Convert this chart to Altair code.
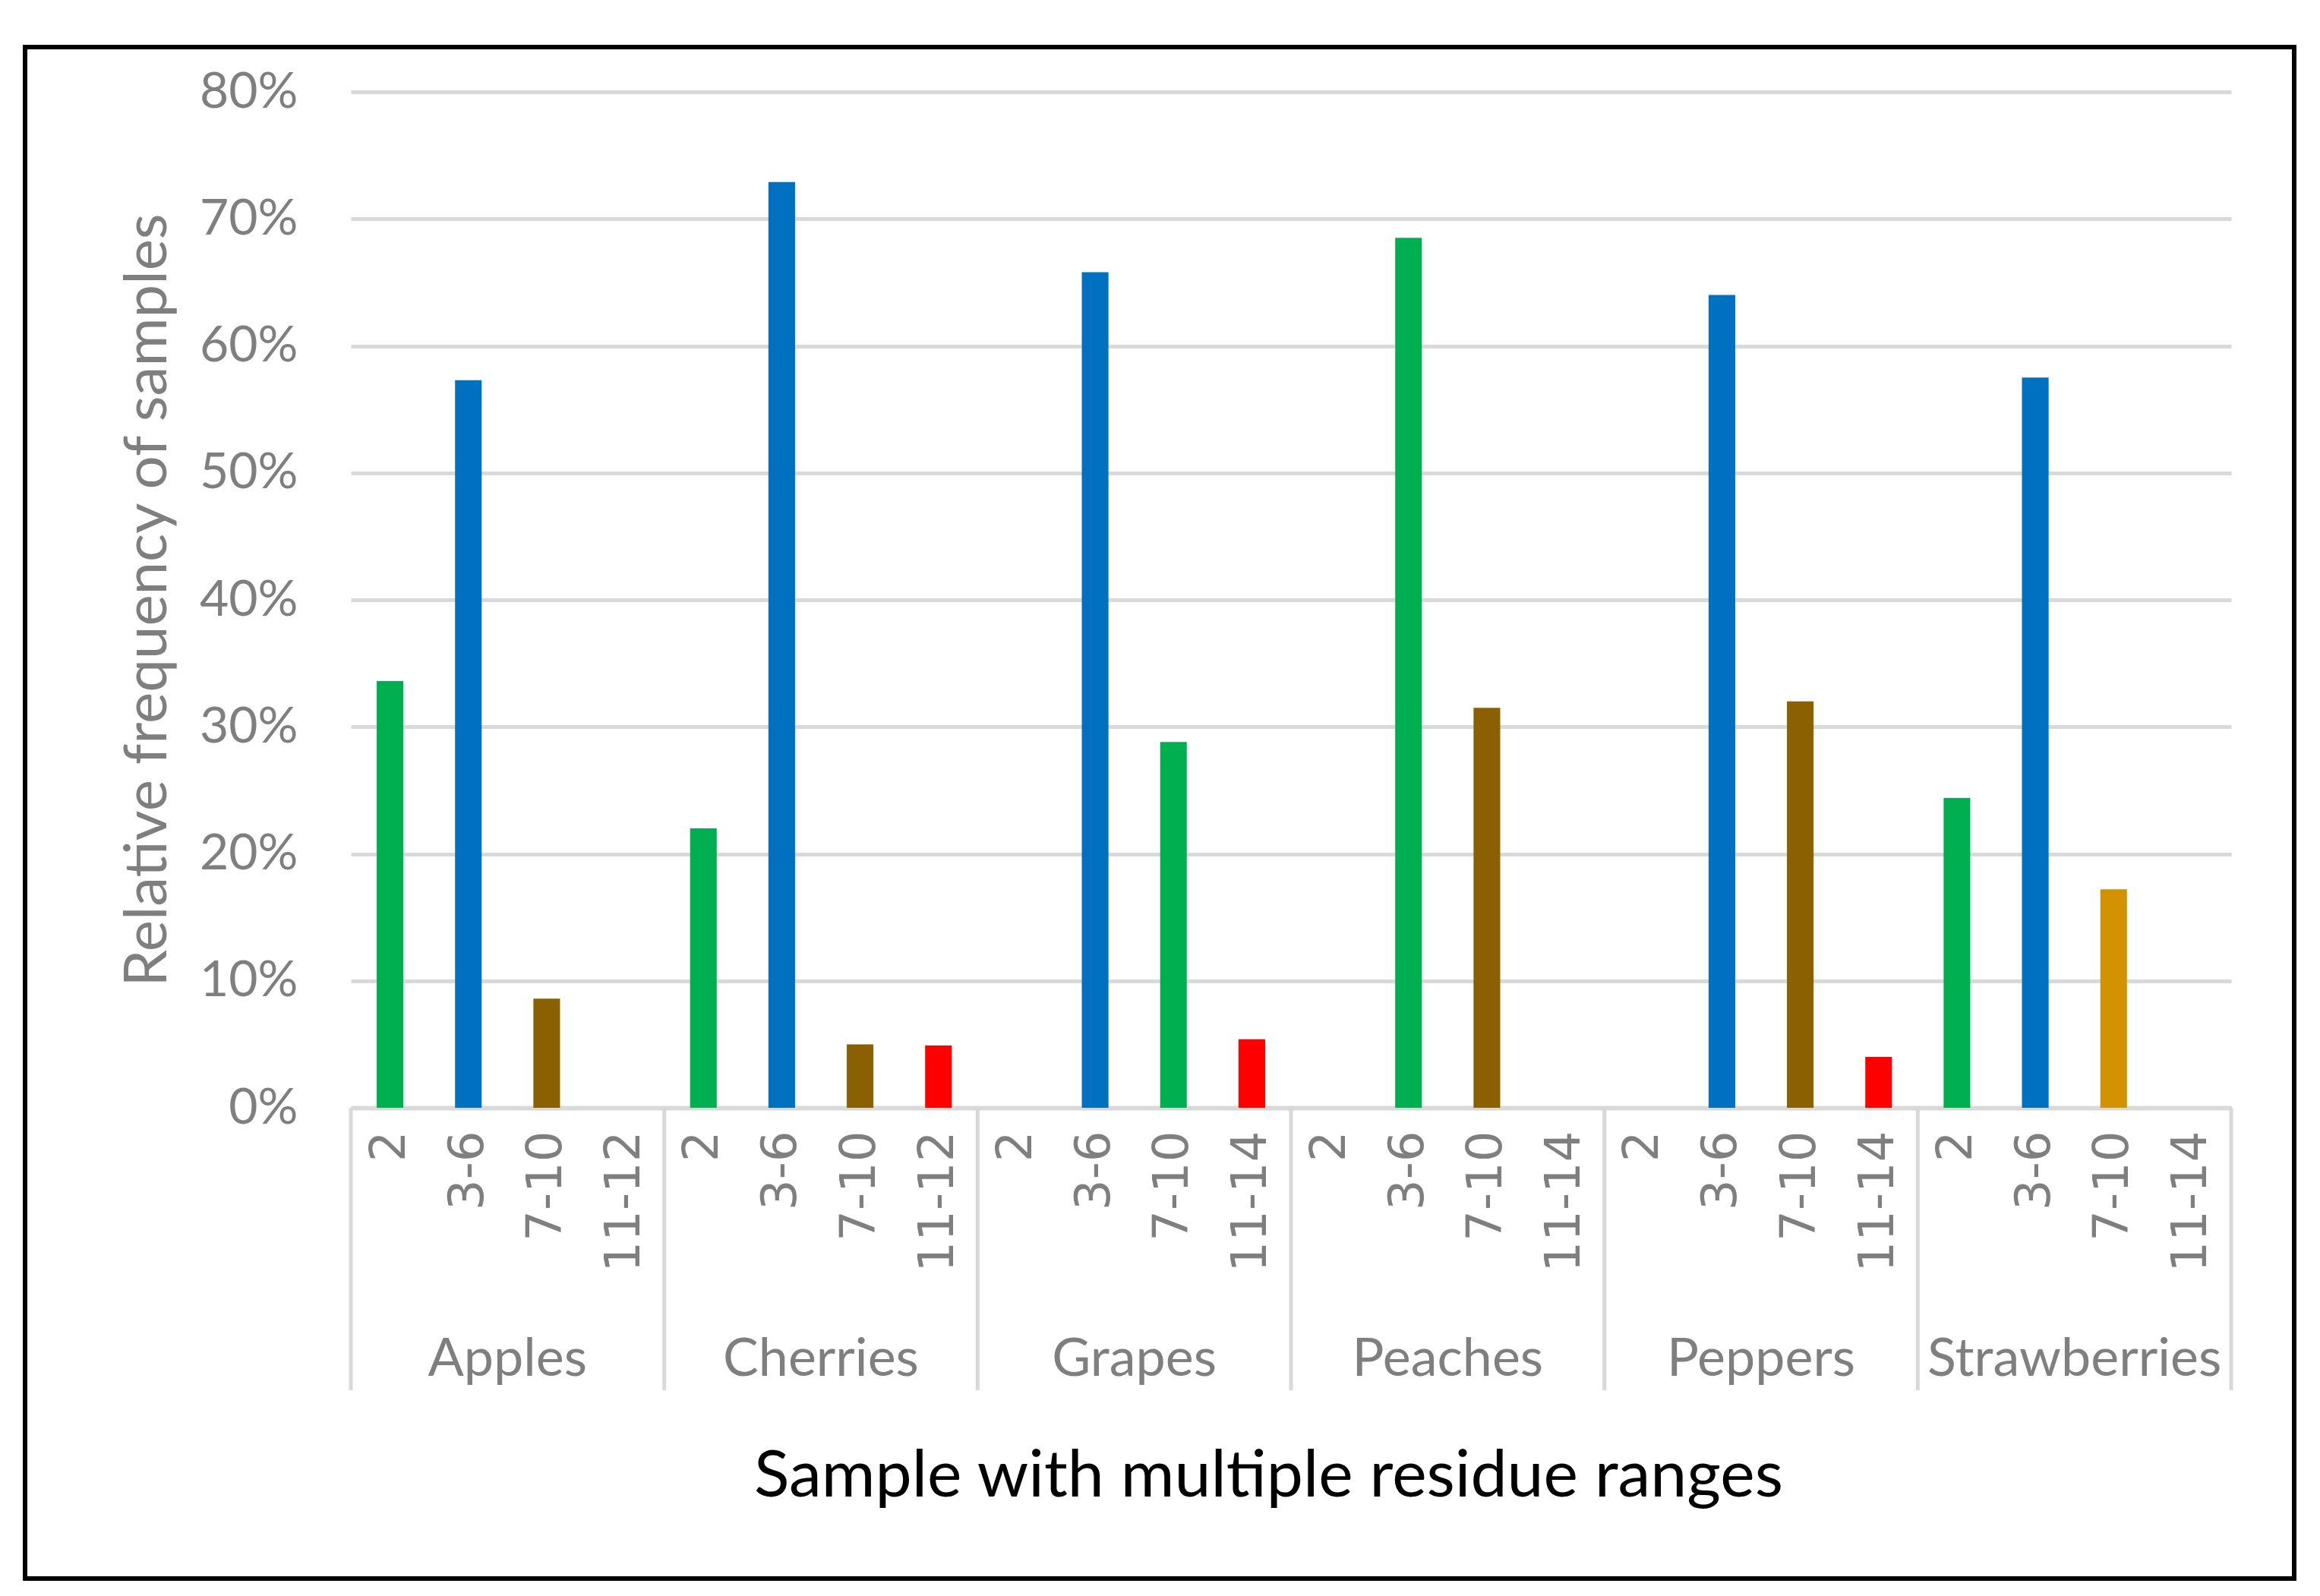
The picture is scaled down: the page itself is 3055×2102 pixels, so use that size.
import altair as alt
import pandas as pd

groups = ["Apples", "Cherries", "Grapes", "Peaches", "Peppers", "Strawberries"]
ranges = [
    ["2", "3-6", "7-10", "11-12"],
    ["2", "3-6", "7-10", "11-12"],
    ["2", "3-6", "7-10", "11-14"],
    ["2", "3-6", "7-10", "11-14"],
    ["2", "3-6", "7-10", "11-14"],
    ["2", "3-6", "7-10", "11-14"],
]
values_pct = [
    [33.6, 57.3, 8.6, 0.0],
    [22.0, 72.9, 5.0, 4.9],
    [0.0, 65.8, 28.8, 5.4],
    [0.0, 68.5, 31.5, 0.0],
    [0.0, 64.0, 32.0, 4.0],
    [24.4, 57.5, 17.2, 0.0],
]
GREEN, BLUE, BROWN, RED, GOLD = "#00B050", "#0070C0", "#8B6000", "#FF0000", "#D39200"
bar_colors = [
    [GREEN, BLUE, BROWN, RED],
    [GREEN, BLUE, BROWN, RED],
    [GREEN, BLUE, GREEN, RED],
    [GREEN, GREEN, BROWN, RED],
    [GREEN, BLUE, BROWN, RED],
    [GREEN, BLUE, GOLD, RED],
]

rows = []
for g, rs, vs, cs in zip(groups, ranges, values_pct, bar_colors):
    for r, v, c in zip(rs, vs, cs):
        rows.append({"group": g, "range": r, "key": f"{g}|{r}", "value": v / 100.0, "color": c})
df = pd.DataFrame(rows)
keys = list(df["key"])

W, H = 2476, 1338
GRAY = "#7F7F7F"
LINE = "#D9D9D9"

xscale = alt.Scale(domain=keys, paddingInner=0, paddingOuter=0)
xaxis = alt.Axis(
    title="Sample with multiple residue ranges",
    titleFont="Lato",
    titleFontSize=86,
    titleFontWeight="normal",
    titleColor="black",
    titlePadding=243,
    titleX=1208,
    titleAlign="center",
    labelExpr="split(datum.label, '|')[1]",
    labelAngle=270,
    labelFont="DejaVu Sans",
    labelFontSize=64,
    labelLimit=1000,
    labelColor=GRAY,
    labelPadding=30,
    ticks=False,
    domainColor=LINE,
    domainWidth=6,
    grid=False,
)

bars = alt.Chart(df).mark_bar(width={"band": 0.34}).encode(
    x=alt.X("key:N", scale=xscale, sort=keys, axis=xaxis),
    y=alt.Y(
        "value:Q",
        scale=alt.Scale(domain=[0, 0.8], nice=False),
        axis=alt.Axis(
            title="Relative frequency of samples",
            titleFont="Lato",
            titleFontSize=78,
            titleFontWeight="normal",
            titleColor=GRAY,
            titlePadding=28,
            format=".0%",
            values=[0, 0.1, 0.2, 0.3, 0.4, 0.5, 0.6, 0.7, 0.8],
            labelFont="Lato",
            labelFontSize=66,
            labelColor=GRAY,
            labelPadding=70,
            ticks=False,
            domain=False,
            gridColor=LINE,
            gridWidth=5,
        ),
    ),
    color=alt.Color("color:N", scale=None),
)

first_keys = pd.DataFrame({"key": [f"{g}|{rs[0]}" for g, rs in zip(groups, ranges)]})
last_key = pd.DataFrame({"key": [f"{groups[-1]}|{ranges[-1][-1]}"]})
label_keys = pd.DataFrame({"key": [f"{g}|{rs[1]}" for g, rs in zip(groups, ranges)], "group": groups})

sep = alt.Chart(first_keys).mark_rule(color=LINE, strokeWidth=5).encode(
    x=alt.X("key:N", bandPosition=0, scale=xscale, sort=keys, axis=xaxis),
    y=alt.value(H),
    y2=alt.value(H + 372),
)
sep_end = alt.Chart(last_key).mark_rule(color=LINE, strokeWidth=5).encode(
    x=alt.X("key:N", bandPosition=1, scale=xscale, sort=keys, axis=xaxis),
    y=alt.value(H),
    y2=alt.value(H + 372),
)
glabels = alt.Chart(label_keys).mark_text(
    font="Lato", fontSize=70, color=GRAY, baseline="alphabetic", align="center"
).encode(
    x=alt.X("key:N", bandPosition=1, scale=xscale, sort=keys, axis=xaxis),
    y=alt.value(H + 353),
    text="group:N",
)
frame = alt.Chart(pd.DataFrame({"f": [0]})).mark_rect(
    fill="transparent", stroke="black", strokeWidth=6
).encode(
    x=alt.value(-429), x2=alt.value(2559), y=alt.value(-59), y2=alt.value(1958)
)

chart = (
    alt.layer(bars, sep, sep_end, glabels, frame)
    .properties(
        width=W,
        height=H,
        autosize=alt.AutoSizeParams(type="none"),
        padding={"left": 454, "top": 113, "right": 95, "bottom": 630},
        background="white",
    )
    .configure_view(strokeWidth=0)
)

chart.save("out.html", embed_options={"renderer": "svg", "actions": False})
